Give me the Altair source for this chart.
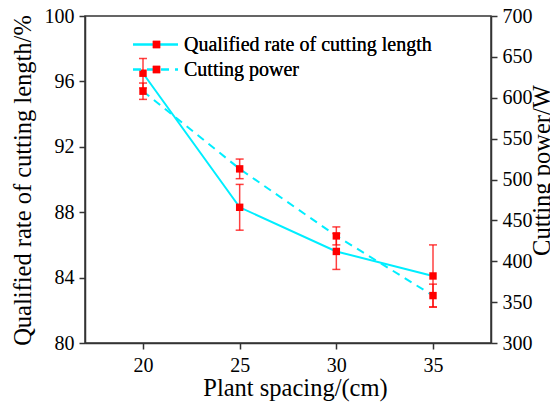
import altair as alt
import pandas as pd

# ---- data ----
spacing = [20, 25, 30, 35]
qual_rate = [96.5, 88.3, 85.6, 84.1]
qual_err = [0.9, 1.4, 1.1, 1.9]
power = [608, 513, 431, 358]
power_err = [10, 12, 11, 14]
series_names = ["Qualified rate of cutting length", "Cutting power"]

x_ticks = [20, 25, 30, 35]
left_ticks = [80, 84, 88, 92, 96, 100]
right_ticks = [300, 350, 400, 450, 500, 550, 600, 650, 700]

FONT = "Liberation Serif"
CYAN = "#00eeff"
RED = "#ff0000"
AXC = "#333333"

df = pd.DataFrame({"x": spacing, "q": qual_rate, "qe": qual_err, "p": power, "pe": power_err})
df["q_lo"] = df["q"] - df["qe"]
df["q_hi"] = df["q"] + df["qe"]
df["p_lo"] = df["p"] - df["pe"]
df["p_hi"] = df["p"] + df["pe"]

xs = alt.Scale(domain=[17, 38], nice=False, zero=False)
yl = alt.Scale(domain=[80, 100], nice=False, zero=False)
yr = alt.Scale(domain=[300, 700], nice=False, zero=False)

base = alt.Chart(df)
XAX = alt.Axis(values=x_ticks, title="Plant spacing/(cm)",
               titleX=210, titleY=52, titleBaseline="alphabetic", labelPadding=6)
Xn = alt.X("x:Q", scale=xs, axis=XAX)

lineQ = base.mark_line(color=CYAN, strokeWidth=2).encode(
    x=Xn,
    y=alt.Y("q:Q", scale=yl, axis=alt.Axis(values=left_ticks, orient="left",
                                           title="Qualified rate of cutting length/%",
                                           titleAngle=270, titleX=-55, titleY=164,
                                           titleBaseline="alphabetic", titleAlign="center",
                                           labelPadding=5)),
)
lineP = base.mark_line(color=CYAN, strokeWidth=2, strokeDash=[8, 6]).encode(
    x=Xn,
    y=alt.Y("p:Q", scale=yr, axis=alt.Axis(values=right_ticks, orient="right",
                                           title="Cutting power/W",
                                           titleAngle=270, titleX=58, titleY=154,
                                           titleBaseline="alphabetic", titleAlign="center",
                                           labelPadding=5)),
)

def errbars(lo, hi, scale):
    rule = base.mark_rule(color=RED, strokeWidth=1.5, opacity=0.75).encode(
        x=Xn, y=alt.Y(f"{lo}:Q", scale=scale, axis=None), y2=f"{hi}:Q")
    cap_lo = base.mark_tick(color=RED, thickness=1.5, size=8, orient="horizontal", opacity=0.75).encode(
        x=Xn, y=alt.Y(f"{lo}:Q", scale=scale, axis=None))
    cap_hi = base.mark_tick(color=RED, thickness=1.5, size=8, orient="horizontal", opacity=0.75).encode(
        x=Xn, y=alt.Y(f"{hi}:Q", scale=scale, axis=None))
    return [rule, cap_lo, cap_hi]

ptsQ = base.mark_square(color=RED, size=55, opacity=1).encode(
    x=Xn, y=alt.Y("q:Q", scale=yl, axis=None))
ptsP = base.mark_square(color=RED, size=55, opacity=1).encode(
    x=Xn, y=alt.Y("p:Q", scale=yr, axis=None))

# ---- legend (drawn by hand) ----
leg_df = pd.DataFrame({"name": series_names})
leg_layers = []
for i, name in enumerate(series_names):
    yy = 28.5 + 25 * i
    lg = alt.Chart(leg_df)
    if i == 0:
        ln = lg.mark_rule(color=CYAN, strokeWidth=2)
    else:
        ln = lg.mark_rule(color=CYAN, strokeWidth=2, strokeDash=[8, 6])
    leg_layers.append(ln.encode(x=alt.value(48), x2=alt.value(93), y=alt.value(yy)))
    leg_layers.append(lg.mark_square(color=RED, size=55, opacity=1).encode(
        x=alt.value(71.5), y=alt.value(yy)))
    leg_layers.append(lg.mark_text(align="left", baseline="middle", font=FONT, fontSize=20,
                                   color="black").encode(
        x=alt.value(99), y=alt.value(yy), text=alt.value(name)))

layers = [lineQ, lineP] + errbars("q_lo", "q_hi", yl) + errbars("p_lo", "p_hi", yr) + [ptsQ, ptsP] + leg_layers

chart = alt.layer(*layers).resolve_scale(y="independent").properties(
    width=406, height=327,
    autosize=alt.AutoSizeParams(type="none"),
    padding={"left": 77, "top": 8, "right": 59, "bottom": 59},
).configure_axis(
    labelFont=FONT, titleFont=FONT, labelFontSize=20, titleFontSize=24.5,
    labelColor="black", titleColor="black", titleFontWeight="normal",
    domainColor=AXC, tickColor=AXC, domainWidth=1.5, tickWidth=1.5, tickSize=6,
    grid=False,
).configure_view(stroke=AXC, strokeWidth=1.5)

chart.save("out.html", embed_options={"renderer": "svg", "actions": False})
